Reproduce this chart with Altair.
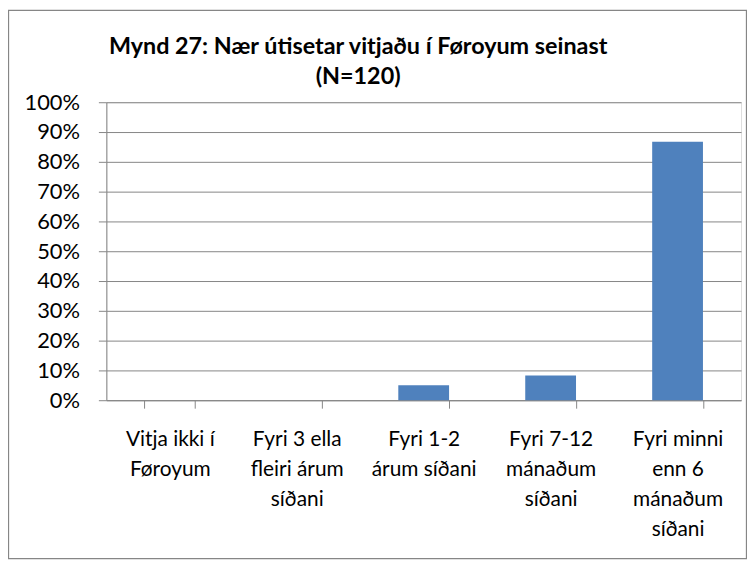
import altair as alt
import pandas as pd

categories = [
    "Vitja ikki í|Føroyum",
    "Fyri 3 ella|fleiri árum|síðani",
    "Fyri 1-2|árum síðani",
    "Fyri 7-12|mánaðum|síðani",
    "Fyri minni|enn 6|mánaðum|síðani",
]
shares = [0.0, 0.0, 0.05, 0.083, 0.867]
y_ticks = [0, 0.1, 0.2, 0.3, 0.4, 0.5, 0.6, 0.7, 0.8, 0.9, 1.0]
title_lines = ["Mynd 27: Nær útisetar vitjaðu í Føroyum seinast", "(N=120)"]

df = pd.DataFrame({"category": categories, "share": shares})

FONT = "Lato"
GRAY = "#868686"

frame = alt.Chart(pd.DataFrame({"k": [0]})).mark_rect(
    fillOpacity=0, stroke=GRAY, strokeWidth=1.3
).encode(
    x=alt.value(-98.5), x2=alt.value(644.5), y=alt.value(-92.5), y2=alt.value(459.5)
)

bars = alt.Chart(df).mark_bar(color="#4F81BD").encode(
    x=alt.X(
        "category:N",
        sort=categories,
        scale=alt.Scale(paddingInner=0.6, paddingOuter=0.3),
        axis=alt.Axis(
            title=None,
            labelAngle=0,
            labelExpr="split(datum.label, '|')",
            tickBand="extent",
            tickSize=8,
            tickColor=GRAY,
            domainColor=GRAY,
            labelPadding=21,
            labelFont=FONT,
            labelFontSize=21,
            labelLineHeight=30,
            labelColor="#000000",
            labelBaseline="top",
            grid=False,
        ),
    ),
    y=alt.Y(
        "share:Q",
        scale=alt.Scale(domain=[0, 1], nice=False),
        axis=alt.Axis(
            title=None,
            values=y_ticks,
            format=".0%",
            tickSize=8,
            tickColor=GRAY,
            domainColor=GRAY,
            gridColor=GRAY,
            gridWidth=1,
            labelPadding=19,
            labelFont=FONT,
            labelFontSize=22,
            labelColor="#000000",
        ),
    ),
)

chart = alt.layer(frame, bars).properties(
    width=639,
    height=300,
    autosize=alt.AutoSizeParams(type="none"),
    padding={"left": 99, "top": 93, "right": 6, "bottom": 161},
    title=alt.TitleParams(
        title_lines,
        font=FONT,
        fontSize=23.5,
        fontWeight="bold",
        color="#000000",
        anchor="middle",
        dx=-66,
        dy=79,
        offset=0,
        lineHeight=30,
    ),
).configure_view(stroke=None).configure(background="#ffffff")

chart.save("out.html", embed_options={"renderer": "svg", "actions": False})
